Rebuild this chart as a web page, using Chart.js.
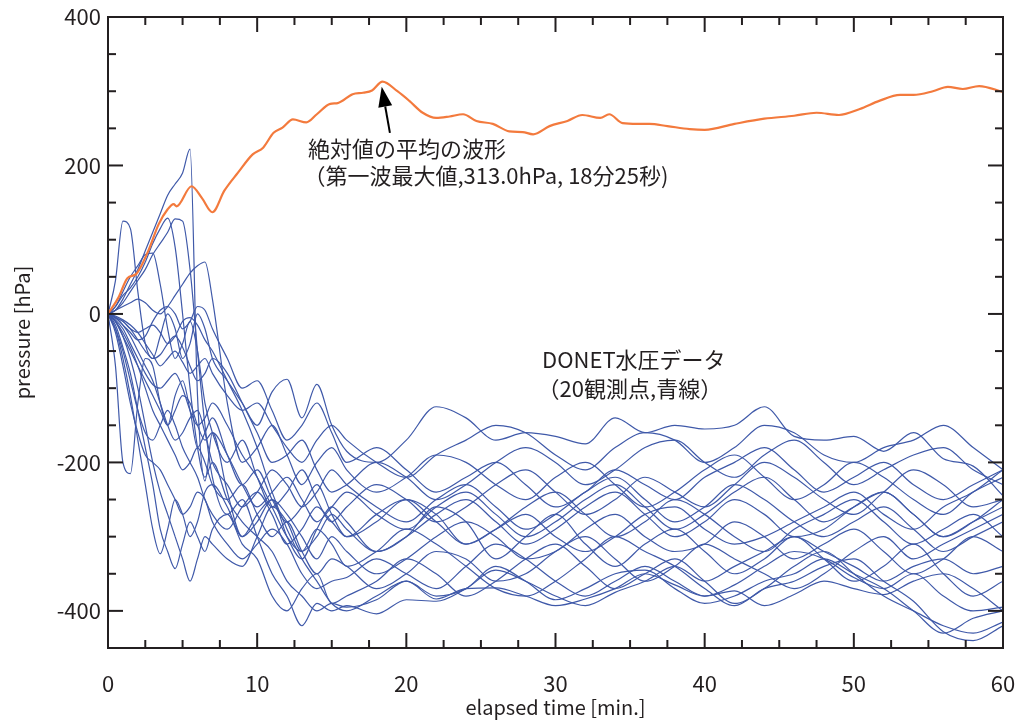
<!DOCTYPE html>
<html>
<head>
<meta charset="utf-8">
<script src="https://cdn.jsdelivr.net/npm/chart.js@4/dist/chart.umd.min.js"></script>
<style>
  body { margin: 0; background: #fff; }
</style>
</head>
<body>
<canvas id="chart" width="1025" height="721"></canvas>
<script>
// time grid (min.) shared by the 20 DONET stations
const times = [0,0.5,1,1.5,2,2.5,3,3.5,4,4.5,5,5.5,6,6.5,7,8,9,10,11,12,13,14,15,16,18,20,22,24,26,28,30,32,34,36,38,40,42,44,46,48,50,52,54,56,58,60];

const s1 = [0,5,20,40,60,85,110,135,160,175,190,222,-110,-225,-160,-240,-300,-270,-250,-300,-330,-290,-260,-280,-320,-300,-260,-280,-330,-300,-270,-310,-340,-310,-290,-320,-350,-330,-300,-330,-360,-340,-310,-350,-380,-360];
const s2 = [0,45,125,115,30,-40,-60,-30,0,-20,-60,-40,0,-20,-60,-90,-120,-150,-105,-88,-140,-95,-150,-185,-200,-170,-125,-140,-170,-160,-165,-175,-140,-160,-150,-155,-150,-125,-165,-170,-165,-185,-160,-195,-205,-245];
const s3 = [0,-70,-200,-215,-120,-60,-70,-120,-150,-110,-90,-130,-180,-160,-140,-190,-230,-210,-250,-280,-260,-230,-270,-300,-280,-250,-270,-310,-290,-260,-240,-270,-300,-280,-250,-270,-300,-320,-290,-270,-250,-280,-310,-290,-270,-300];
const s4 = [0,10,25,35,50,70,95,115,129,90,0,-100,-180,-220,-200,-250,-280,-300,-320,-360,-380,-400,-390,-395,-385,-360,-380,-370,-340,-360,-385,-370,-350,-345,-370,-390,-380,-360,-350,-330,-350,-370,-400,-430,-410,-400];
const s5 = [0,5,15,30,45,60,80,95,110,128,125,60,-50,-150,-220,-270,-250,-300,-350,-380,-420,-390,-400,-393,-404,-385,-387,-370,-345,-360,-380,-393,-375,-360,-340,-360,-340,-320,-300,-320,-340,-360,-340,-330,-350,-340];
const s6 = [0,10,30,50,65,80,82,40,-20,-60,-40,-10,-50,-120,-160,-200,-170,-220,-260,-240,-210,-250,-280,-260,-230,-250,-280,-260,-230,-210,-240,-270,-250,-220,-240,-260,-230,-200,-220,-250,-270,-240,-210,-230,-260,-250];
const s7 = [0,5,10,15,20,15,5,0,10,25,40,55,65,70,20,-120,-200,-180,-150,-190,-230,-200,-180,-210,-240,-220,-190,-200,-230,-250,-220,-200,-230,-260,-240,-210,-190,-220,-250,-230,-200,-220,-250,-270,-240,-220];
const s8 = [0,-5,-15,-25,-35,-30,-10,5,10,0,-20,-10,10,5,-20,-60,-100,-90,-130,-170,-150,-120,-160,-200,-180,-210,-240,-220,-200,-230,-260,-240,-210,-230,-250,-220,-200,-180,-210,-240,-220,-200,-230,-250,-230,-210];
const s9 = [0,-20,-60,-110,-170,-230,-290,-323,-290,-250,-270,-300,-280,-240,-230,-260,-300,-280,-250,-270,-300,-330,-300,-320,-350,-330,-300,-280,-300,-330,-320,-290,-270,-300,-320,-310,-280,-300,-330,-310,-290,-320,-350,-330,-300,-320];
const s10 = [0,-15,-45,-80,-130,-180,-230,-290,-320,-343,-310,-280,-300,-320,-290,-270,-310,-330,-380,-400,-370,-350,-390,-380,-360,-330,-350,-380,-360,-330,-310,-340,-370,-350,-330,-360,-390,-370,-340,-320,-350,-380,-400,-420,-430,-415];
const s11 = [0,-10,-30,-60,-100,-150,-200,-240,-270,-300,-330,-360,-330,-300,-310,-330,-340,-300,-260,-280,-320,-300,-270,-290,-320,-300,-270,-250,-280,-310,-290,-260,-240,-270,-300,-280,-250,-270,-300,-290,-260,-240,-270,-300,-280,-260];
const s12 = [0,-10,-25,-45,-70,-100,-130,-150,-170,-190,-210,-200,-180,-200,-230,-250,-230,-270,-300,-280,-320,-350,-330,-340,-370,-350,-320,-330,-360,-350,-320,-300,-330,-360,-340,-310,-330,-350,-370,-350,-320,-300,-330,-310,-290,-270];
const s13 = [0,-5,-10,-20,-35,-50,-60,-55,-40,-30,-45,-70,-90,-80,-60,-80,-120,-160,-200,-190,-170,-210,-240,-230,-200,-220,-250,-230,-200,-180,-200,-230,-210,-180,-170,-200,-220,-190,-170,-200,-230,-210,-190,-180,-210,-230];
const s14 = [0,-8,-20,-40,-60,-80,-95,-100,-90,-80,-100,-130,-150,-140,-120,-150,-190,-220,-260,-300,-320,-290,-310,-340,-320,-290,-310,-340,-370,-380,-360,-330,-300,-320,-340,-370,-393,-370,-360,-340,-330,-360,-387,-428,-440,-420];
const s15 = [0,-20,-50,-90,-130,-160,-170,-150,-130,-150,-180,-200,-220,-250,-270,-290,-260,-240,-270,-310,-290,-260,-280,-300,-270,-250,-280,-310,-290,-270,-300,-320,-300,-270,-260,-290,-310,-300,-280,-260,-240,-270,-290,-260,-240,-210];
const s16 = [0,-5,-15,-30,-50,-70,-90,-120,-150,-170,-160,-140,-130,-160,-200,-230,-260,-240,-210,-230,-260,-240,-210,-230,-260,-280,-250,-230,-260,-290,-270,-240,-220,-250,-280,-260,-230,-250,-280,-300,-280,-260,-290,-320,-300,-280];
const s17 = [0,-5,-10,-20,-25,-20,-15,-25,-40,-30,-10,-5,-15,-35,-50,-90,-130,-180,-240,-290,-330,-360,-390,-400,-380,-360,-384,-370,-369,-380,-393,-384,-370,-350,-365,-380,-373,-393,-378,-360,-370,-378,-360,-350,-370,-400];
const s18 = [0,-10,-30,-50,-70,-90,-110,-130,-150,-130,-110,-120,-150,-170,-160,-190,-230,-260,-240,-220,-250,-280,-260,-240,-270,-290,-260,-240,-270,-300,-280,-250,-230,-260,-290,-270,-240,-220,-250,-280,-260,-240,-270,-300,-280,-250];
const s19 = [0,-3,-8,-15,-25,-40,-55,-70,-60,-50,-65,-80,-70,-60,-80,-110,-130,-120,-150,-180,-200,-170,-150,-170,-200,-220,-190,-170,-150,-160,-190,-210,-180,-160,-170,-200,-180,-150,-160,-190,-200,-180,-170,-150,-180,-210];
const s20 = [0,-25,-70,-120,-160,-190,-200,-210,-230,-250,-270,-260,-240,-250,-280,-310,-330,-310,-290,-310,-350,-370,-360,-355,-330,-350,-370,-340,-310,-330,-360,-380,-360,-340,-360,-380,-365,-340,-320,-330,-355,-370,-350,-380,-400,-395];

const stations = [s1,s2,s3,s4,s5,s6,s7,s8,s9,s10,s11,s12,s13,s14,s15,s16,s17,s18,s19,s20];

// mean of absolute values (orange)
const meanTimes = [0,0.7,1.3,1.9,2.7,3.4,4.0,4.4,4.6,5.6,6.3,7.0,7.8,8.7,9.7,10.4,11.1,11.7,12.4,13.3,14.0,14.9,15.4,16.4,17.1,17.7,18.4,19.4,20.2,21.1,22.0,22.9,23.8,24.7,25.8,26.9,27.8,28.5,29.6,30.8,31.8,33.0,33.6,34.5,35.5,36.3,37.5,39,40,42,44,46,47.5,49,50.4,51.7,53.1,54,55.3,56.3,57.3,58.4,60];
const meanValues = [0,22,48,54,85,121,141,148,145,172,156,137,166,190,215,224,244,251,262,258,269,283,284,296,298,301,313,300,287,271,264,266,269,260,256,246,245,242,253,260,268,264,269,257,256,256,253,249,248,256,263,267,271,268,276,287,295,295,300,306,303,307,299];

const yTicks = [400, 200, 0, -200, -400];
const xTicks = [0, 10, 20, 30, 40, 50, 60];

const INK = "#231f20";
const FONT = "'Noto Sans CJK JP', 'Noto Sans', sans-serif";

const datasets = [{
  data: meanTimes.map((t, i) => ({ x: t, y: meanValues[i] })),
  borderColor: "#f37a3d",
  borderWidth: 2.2
}];
stations.forEach(s => {
  datasets.push({
    data: times.map((t, i) => ({ x: t, y: s[i] })),
    borderColor: "#3f59a9",
    borderWidth: 1.2
  });
});

const frame = {
  id: "frame",
  afterDatasetsDraw(chart) {
    const { ctx, chartArea: a, scales: { x, y } } = chart;
    ctx.save();
    ctx.strokeStyle = INK;
    ctx.lineWidth = 2;
    const seg = (x1, y1, x2, y2) => { ctx.beginPath(); ctx.moveTo(x1, y1); ctx.lineTo(x2, y2); ctx.stroke(); };

    // minor/major ticks, pointing inward on all four sides
    for (let v = -400; v < 400; v += 50) {
      const py = y.getPixelForValue(v);
      const len = v % 200 === 0 ? 15 : 8;
      seg(a.left, py, a.left + len, py);
      seg(a.right, py, a.right - len, py);
    }
    for (let t = 2.5; t < 60; t += 2.5) {
      const px = x.getPixelForValue(t);
      const len = t % 10 === 0 ? 15 : 8;
      seg(px, a.bottom, px, a.bottom - len);
      seg(px, a.top, px, a.top + len);
    }
    ctx.strokeRect(a.left, a.top, a.right - a.left, a.bottom - a.top);

    ctx.fillStyle = INK;
    ctx.font = "22px " + FONT;
    ctx.textAlign = "right";
    ctx.textBaseline = "middle";
    yTicks.forEach(v => ctx.fillText(String(v), a.left - 7, y.getPixelForValue(v)));
    ctx.textAlign = "center";
    xTicks.forEach(t => ctx.fillText(String(t), x.getPixelForValue(t), a.bottom + 36));

    ctx.font = "20px " + FONT;
    ctx.fillText("elapsed time [min.]", (a.left + a.right) / 2, a.bottom + 59);
    ctx.save();
    ctx.translate(22, (a.top + a.bottom) / 2);
    ctx.rotate(-Math.PI / 2);
    ctx.fillText("pressure [hPa]", 0, 0);
    ctx.restore();

    // annotations
    ctx.font = "22px " + FONT;
    ctx.textAlign = "left";
    ctx.fillText("絶対値の平均の波形", x.getPixelForValue(13.4), y.getPixelForValue(222));
    ctx.fillText("（第一波最大値,313.0hPa, 18分25秒)", x.getPixelForValue(13.1), y.getPixelForValue(186));
    ctx.fillText("DONET水圧データ", x.getPixelForValue(29.1), y.getPixelForValue(-62));
    ctx.fillText("（20観測点,青線）", x.getPixelForValue(28.8), y.getPixelForValue(-100));

    // arrow to the first-wave maximum
    const tipX = x.getPixelForValue(18.35), tipY = y.getPixelForValue(306);
    const tailX = x.getPixelForValue(18.9), tailY = y.getPixelForValue(244);
    const ang = Math.atan2(tipY - tailY, tipX - tailX);
    const headLen = 20, headW = 7;
    const bx = tipX - headLen * Math.cos(ang), by = tipY - headLen * Math.sin(ang);
    ctx.strokeStyle = "#000";
    ctx.lineWidth = 2;
    seg(tailX, tailY, bx, by);
    ctx.fillStyle = "#000";
    ctx.beginPath();
    ctx.moveTo(tipX, tipY);
    ctx.lineTo(bx + headW * Math.sin(ang), by - headW * Math.cos(ang));
    ctx.lineTo(bx - headW * Math.sin(ang), by + headW * Math.cos(ang));
    ctx.closePath();
    ctx.fill();
    ctx.restore();
  }
};

new Chart(document.getElementById("chart"), {
  type: "line",
  data: { datasets },
  options: {
    responsive: false,
    animation: false,
    events: [],
    layout: { padding: { left: 108, right: 22, top: 17, bottom: 73 } },
    elements: {
      point: { radius: 0 },
      line: { cubicInterpolationMode: "monotone", fill: false }
    },
    plugins: { legend: { display: false }, tooltip: { enabled: false } },
    scales: {
      x: { type: "linear", min: 0, max: 60, display: false },
      y: { type: "linear", min: -450, max: 400, display: false }
    }
  },
  plugins: [frame]
});
</script>
</body>
</html>
